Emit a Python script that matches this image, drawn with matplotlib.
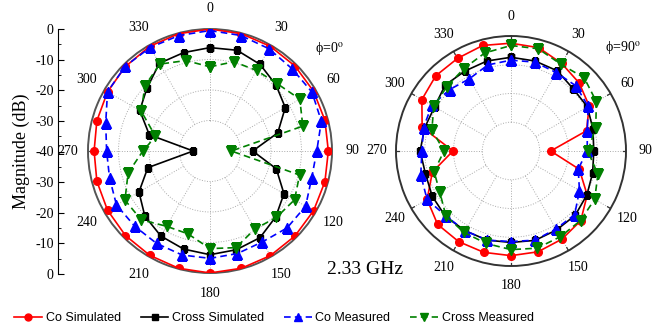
import numpy as np
import matplotlib
matplotlib.use('Agg')
import matplotlib.pyplot as plt
from matplotlib.lines import Line2D

plt.rcParams['font.family'] = ['Liberation Serif', 'DejaVu Serif']
plt.rcParams['mathtext.fontset'] = 'stix'

# angles (deg), one marker every 15 degrees
angles = np.arange(0, 360, 15)

# phi = 0 cut
co_sim_0 = [0.0, -0.2, -0.4, -0.6, -0.8, -1.0, -1.2, -1.0, -0.8, -0.6, -0.4, -0.2,
            0.0, -0.2, -0.5, -0.8, -1.2, -1.6, -2.0, -1.6, -1.2, -0.8, -0.4, -0.2]
cross_sim_0 = [-6.1, -5.8, -7.2, -9.4, -11.5, -17.0, -26.0, -17.5, -12.0, -9.5, -7.2, -6.5,
               -6.0, -6.7, -7.8, -9.8, -13.1, -18.9, -34.5, -19.4, -13.4, -10.8, -6.8, -6.6]
co_meas_0 = [-0.5, -0.8, -1.3, -1.9, -1.4, -2.2, -5.0, -5.5, -3.8, -4.3, -5.6, -5.2,
             -4.8, -4.7, -5.0, -5.1, -4.6, -5.9, -6.1, -4.6, -1.2, -0.7, -0.8, -0.8]
cross_meas_0 = [-12.4, -9.7, -9.5, -8.8, -6.0, -8.5, -33.0, -9.6, -8.0, -9.2, -10.5, -7.2,
                -8.0, -11.9, -11.5, -8.1, -7.8, -12.2, -18.0, -21.5, -14.0, -9.8, -7.1, -9.3]

# phi = 90 cut
co_sim_90 = [-2.5, -2.8, -4.8, -6.5, -8.6, -12.8, -26.2, -15.4, -9.4, -5.7, -4.6, -3.7,
             -3.6, -3.5, -3.6, -3.9, -6.3, -11.7, -19.8, -8.0, -4.2, -3.0, -2.8, -2.0]
cross_sim_90 = [-7.4, -7.6, -7.8, -9.4, -9.3, -10.5, -11.2, -10.6, -9.5, -8.4, -8.3, -7.8,
                -8.2, -7.9, -8.0, -7.8, -8.4, -9.2, -8.4, -8.9, -9.3, -7.6, -7.9, -7.6]
co_meas_90 = [-8.4, -8.0, -8.5, -8.0, -9.0, -12.5, -13.5, -15.8, -12.5, -8.7, -8.7, -7.9,
              -8.5, -7.9, -8.0, -8.0, -6.3, -7.5, -9.0, -8.5, -8.2, -9.8, -11.0, -9.0]
cross_meas_90 = [-3.3, -3.2, -5.2, -4.0, -5.7, -9.5, -13.3, -8.7, -6.4, -5.8, -5.6, -5.0,
                 -5.7, -6.7, -7.3, -8.0, -11.4, -12.3, -16.7, -11.5, -9.0, -8.4, -7.0, -4.7]

mag_ticks = [-40, -30, -20, -10, 0, 10, 20, 30, 40]
mag_labels = ['0', '-10', '-20', '-30', '-40', '-30', '-20', '-10', '0']

styles = [
    ('Co Simulated', 'red', '-', 'o', 5.5),
    ('Cross Simulated', 'black', '-', 's', 5),
    ('Co Measured', 'blue', '--', '^', 6.5),
    ('Cross Measured', 'green', '--', 'v', 6.5),
]


def closed(a):
    return np.append(a, a[0])


def setup_polar(ax, pad, spine_color):
    ax.set_theta_zero_location('N')
    ax.set_theta_direction(-1)
    ax.set_rlim(-40, 0)
    ax.set_rgrids([-30, -20, -10], labels=[])
    ax.set_thetagrids(range(0, 360, 30), [str(a) for a in range(0, 360, 30)], fontsize=10)
    ax.tick_params(axis='x', pad=pad)
    ax.xaxis.grid(False)
    ax.yaxis.grid(True, color='#aaaaaa', linestyle=':', linewidth=0.7)
    for a in range(0, 360, 30):
        t = np.deg2rad(a)
        ax.plot([t, t], [-30, 0], color='#aaaaaa', linestyle=':', linewidth=0.7, zorder=1)
        ax.plot([t, t], [-1.2, 0], color=spine_color, linewidth=0.9, zorder=1)
    ax.spines['polar'].set_color(spine_color)
    ax.spines['polar'].set_linewidth(1.4)


def draw(ax, series):
    th = np.deg2rad(closed(angles))
    for (name, c, ls, m, ms), vals in zip(styles, series):
        ax.plot(th, closed(vals), color=c, linestyle=ls, marker=m, markersize=ms,
                linewidth=1.2, dashes=(4, 2.5) if ls == '--' else (None, None), zorder=3)


fig = plt.figure(figsize=(6.52, 3.30), dpi=100)

ax1 = fig.add_axes([88 / 652, (330 - 273) / 330, 244 / 652, 244 / 330], projection='polar')
setup_polar(ax1, 4, '#555555')
draw(ax1, [co_sim_0, cross_sim_0, co_meas_0, cross_meas_0])
ax1.text(0.93, 0.92, r'ϕ=0$^\mathrm{o}$', transform=ax1.transAxes, fontsize=10, ha='left', va='center')

ax2 = fig.add_axes([396 / 652, (330 - 266) / 330, 230 / 652, 230 / 330], projection='polar')
setup_polar(ax2, 3.5, '#333333')
draw(ax2, [co_sim_90, cross_sim_90, co_meas_90, cross_meas_90])
ax2.text(0.91, 0.95, r'ϕ=90$^\mathrm{o}$', transform=ax2.transAxes, fontsize=10, ha='left', va='center')

# magnitude scale on the left
axm = fig.add_axes([58 / 652, (330 - 274) / 330, 0.001, 245 / 330])
axm.set_ylim(-40, 40)
axm.set_yticks(mag_ticks)
axm.set_yticklabels(mag_labels, fontsize=10)
axm.set_yticks(np.arange(-35, 40, 10), minor=True)
axm.tick_params(axis='y', which='major', direction='in', length=4, pad=3)
axm.tick_params(axis='y', which='minor', direction='in', length=2)
axm.set_xticks([])
for s in ['top', 'right', 'bottom']:
    axm.spines[s].set_visible(False)
axm.set_ylabel('Magnitude (dB)', fontsize=13, labelpad=4)
axm.patch.set_visible(False)

fig.text(365 / 652, 1 - 270 / 330, '2.33 GHz', fontsize=14, ha='center', va='center')

handles = [Line2D([], [], color=c, linestyle=ls, marker=m, markersize=ms - 0.5, linewidth=1.2,
                  dashes=(4, 2.5) if ls == '--' else (None, None))
           for (name, c, ls, m, ms) in styles]
fig.legend(handles, [s[0] for s in styles], loc='center', bbox_to_anchor=(274 / 652, 1 - 318 / 330),
           ncol=4, frameon=False, handlelength=2.2, handletextpad=0.3, columnspacing=1.6,
           borderpad=0.1, prop={'family': 'Liberation Sans', 'size': 9})

fig.savefig('out.png', dpi=100)
